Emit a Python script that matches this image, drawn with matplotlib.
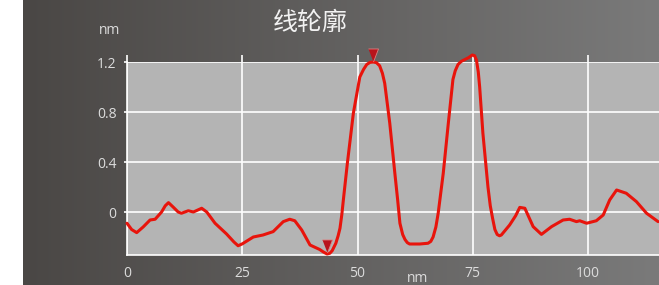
import numpy as np
import matplotlib
matplotlib.use("Agg")
import matplotlib.pyplot as plt

plt.rcParams['font.family'] = ['Noto Sans CJK SC', 'DejaVu Sans']

# profile data (nm, nm)
dist = [0.0, 1.0, 2.1, 3.5, 5.0, 6.1, 7.5, 8.3, 9.0, 10.0, 11.1, 11.8, 13.3, 14.4,
        16.2, 17.3, 19.1, 21.6, 23.2, 24.1, 25.0, 27.4, 29.5, 31.7, 33.9, 35.3,
        36.4, 37.9, 39.7, 41.8, 42.6, 43.4, 44.0, 44.5, 45.3, 45.8, 46.2, 46.6,
        47.0, 47.8, 49.1, 50.5, 51.3, 52.0, 52.7, 53.4, 54.1, 54.8, 55.4, 55.9,
        57.0, 58.1, 58.7, 59.2, 59.8, 60.3, 60.8, 61.3, 63.5, 65.3, 65.9, 66.4,
        67.0, 67.5, 68.6, 69.7, 70.7, 71.2, 71.8, 72.5, 73.3, 74.1, 74.9, 75.4,
        75.8, 76.2, 76.5, 77.2, 78.3, 78.8, 79.3, 79.8, 80.3, 80.8, 81.2, 83.0,
        84.3, 85.2, 86.3, 88.1, 89.9, 92.1, 94.6, 96.0, 97.5, 98.2, 99.7, 101.8,
        103.3, 104.7, 106.2, 108.3, 110.5, 112.7, 115.2]
height = [-0.09, -0.14, -0.165, -0.12, -0.064, -0.058, 0.0, 0.05, 0.075, 0.04, 0.0,
          -0.01, 0.01, 0.0, 0.03, 0.0, -0.09, -0.176, -0.24, -0.27, -0.255, -0.2,
          -0.184, -0.157, -0.077, -0.058, -0.07, -0.144, -0.264, -0.3, -0.32, -0.336,
          -0.33, -0.31, -0.25, -0.19, -0.13, -0.02, 0.12, 0.39, 0.79, 1.08, 1.14,
          1.18, 1.197, 1.2, 1.195, 1.17, 1.11, 1.03, 0.71, 0.31, 0.1, -0.09, -0.18,
          -0.22, -0.245, -0.256, -0.256, -0.25, -0.235, -0.2, -0.12, -0.01, 0.31,
          0.71, 1.06, 1.13, 1.18, 1.205, 1.22, 1.235, 1.256, 1.25, 1.216, 1.12, 1.0,
          0.63, 0.2, 0.05, -0.05, -0.14, -0.18, -0.19, -0.184, -0.104, -0.03, 0.037,
          0.03, -0.117, -0.179, -0.117, -0.064, -0.058, -0.077, -0.07, -0.09, -0.07,
          -0.024, 0.096, 0.176, 0.15, 0.083, -0.01, -0.077]

cursor_x = [53.4, 43.4]
cursor_y = [1.256, -0.268]

xticks = [0, 25, 50, 75, 100]
yticks = [0, 0.4, 0.8, 1.2]
yticklabels = ['0', '0.4', '0.8', '1.2']

W, H = 659, 285
fig = plt.figure(figsize=(W / 100, H / 100), dpi=100, facecolor='white')

# dark gradient background
bg = fig.add_axes([23 / W, 0, 1 - 23 / W, 1], zorder=0)
left_c = np.array([74, 71, 69]) / 255
right_c = np.array([122, 122, 122]) / 255
t = np.linspace(0, 1, 256)
grad = left_c[None, :] * (1 - t[:, None]) + right_c[None, :] * t[:, None]
bg.imshow(grad[None, :, :], aspect='auto', extent=[0, 1, 0, 1])
bg.set_axis_off()

ax = fig.add_axes([127 / W, 1 - 255 / H, 1 - 127 / W, (255 - 62) / H], zorder=1)
ax.set_facecolor('#b4b4b4')
ax.set_xlim(0, 115.4)
ax.set_ylim(-0.344, 1.2)

ax.grid(True, color='white', lw=1.2)
ax.set_axisbelow(True)
for s in ['top', 'right']:
    ax.spines[s].set_visible(False)
for s in ['left', 'bottom']:
    ax.spines[s].set_color('white')
    ax.spines[s].set_linewidth(1.2)

ax.set_xticks(xticks)
ax.set_yticks(yticks)
ax.set_yticklabels(yticklabels)
ax.tick_params(axis='x', top=True, bottom=False, labeltop=False, labelbottom=True,
               direction='out', length=5, width=1.2, color='white',
               labelcolor='#dcdcdc', labelsize=10, pad=3)
ax.tick_params(axis='y', direction='out', length=2.5, width=1.2, color='white',
               labelcolor='#dcdcdc', labelsize=10, pad=5)
for lab in ax.get_xticklabels() + ax.get_yticklabels():
    lab.set_family(['Open Sans', 'DejaVu Sans'])

ax.plot(dist, height, color='#e8140c', lw=2.2, clip_on=False, zorder=3,
        solid_joinstyle='round', solid_capstyle='round')

tri = [(-5, 6.5), (5, 6.5), (0, -6.5)]
ax.plot(cursor_x, cursor_y, ls='none', marker=tri, markersize=9.4,
        markerfacecolor='#b8141c', markeredgecolor='#e08080', markeredgewidth=0.6,
        clip_on=False, zorder=4)

fig.text(310 / W, 1 - 23 / H, '线轮廓', color='#f2f2f2', fontsize=18,
         fontweight='medium', ha='center', va='center')
fig.text(110 / W, 1 - 31 / H, 'nm', color='#dcdcdc', fontsize=10,
         ha='center', va='center', family=['Open Sans', 'DejaVu Sans'])
fig.text(418 / W, 1 - 278 / H, 'nm', color='#dcdcdc', fontsize=10,
         ha='center', va='center', family=['Open Sans', 'DejaVu Sans'])

fig.savefig('out.png', dpi=100, facecolor='white')
